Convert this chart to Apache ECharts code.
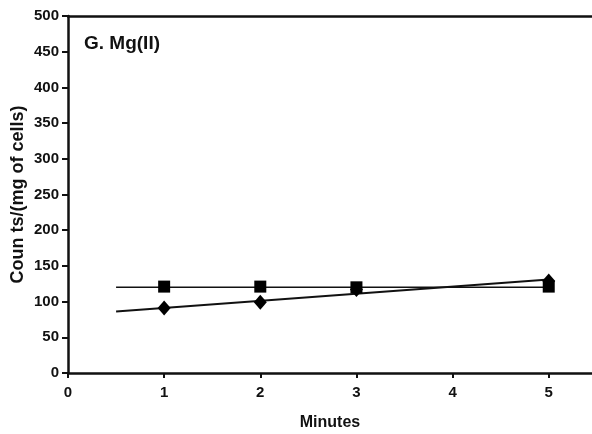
<!DOCTYPE html>
<html><head><meta charset="utf-8">
<script src="https://cdn.jsdelivr.net/npm/echarts@6/dist/echarts.min.js"></script>
<style>html,body{margin:0;padding:0;background:#fff}#c{width:592px;height:434px}</style>
</head><body><div id="c"></div>
<script>
const title = 'G. Mg(II)';
const xTitle = 'Minutes';
const yTitle = 'Coun ts/(mg of cells)';
const xTicks = [0, 1, 2, 3, 4, 5];
const squareX = [1, 2, 3, 5];
const squareY = [121, 121, 120, 121];
const diamondX = [1, 2, 3, 5];
const diamondY = [91, 99, 117, 129];
const squareFit = [[0.5, 120], [5, 120]];
const diamondFit = [[0.5, 86], [5, 131]];

const chart = echarts.init(document.getElementById('c'));
const font = 'Liberation Sans, Arial, sans-serif';
chart.setOption({
  animation: false,
  backgroundColor: '#fff',
  title: { text: title, left: 79, top: 29, textStyle: { fontFamily: font, fontWeight: 'bold', fontSize: 19, color: '#111' } },
  grid: { left: 68, right: 0, top: 16, bottom: 61, containLabel: false, outerBoundsMode: 'none' },
  xAxis: [{
    type: 'value', min: 0, max: 5.45, interval: 1,
    name: xTitle, nameLocation: 'middle', nameGap: 42,
    nameTextStyle: { fontFamily: font, fontWeight: 'bold', fontSize: 16, color: '#111' },
    axisLine: { lineStyle: { color: '#111', width: 2.5 } },
    axisTick: { length: 5, lineStyle: { color: '#111', width: 2 }, customValues: xTicks },
    axisLabel: { fontFamily: font, fontWeight: 'bold', fontSize: 15, color: '#111', margin: 12,
      customValues: xTicks, formatter: v => String(v) },
    splitLine: { show: false }
  }, {
    type: 'value', position: 'top', min: 0, max: 5.45,
    axisLine: { show: true, lineStyle: { color: '#111', width: 2.5 } },
    axisTick: { show: false }, axisLabel: { show: false }, splitLine: { show: false }
  }],
  yAxis: {
    type: 'value', min: 0, max: 500, interval: 50,
    name: yTitle, nameLocation: 'middle', nameGap: 41, nameMoveOverlap: false,
    nameTextStyle: { fontFamily: font, fontWeight: 'bold', fontSize: 18, color: '#111' },
    axisLine: { show: true, lineStyle: { color: '#111', width: 2.5 } },
    axisTick: { show: true, length: 6, lineStyle: { color: '#111', width: 2 } },
    axisLabel: { fontFamily: font, fontWeight: 'bold', fontSize: 15, color: '#111', margin: 9 },
    splitLine: { show: false }
  },
  series: [
    { type: 'line', data: squareFit, symbol: 'none', lineStyle: { color: '#111', width: 1.5 }, z: 2 },
    { type: 'line', data: diamondFit, symbol: 'none', lineStyle: { color: '#111', width: 2 }, z: 2 },
    { type: 'scatter', data: diamondX.map((x, i) => [x, diamondY[i]]), symbol: 'diamond', symbolSize: [13, 15],
      itemStyle: { color: '#000', opacity: 1 }, z: 3 },
    { type: 'scatter', data: squareX.map((x, i) => [x, squareY[i]]), symbol: 'rect', symbolSize: 12,
      itemStyle: { color: '#000', opacity: 1 }, z: 4 }
  ]
});
</script></body></html>
